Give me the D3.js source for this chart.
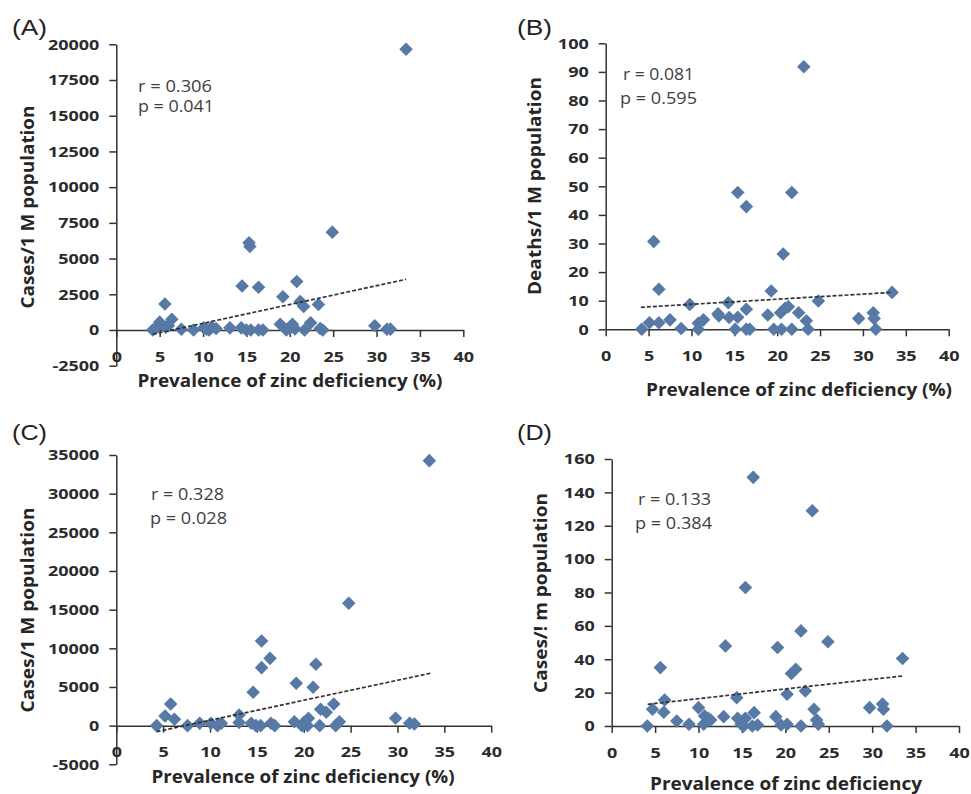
<!DOCTYPE html>
<html><head><meta charset="utf-8">
<script src="https://cdn.jsdelivr.net/npm/d3@7"></script>
<style>body{margin:0;background:#fff}</style>
</head><body>
<svg id="chart" width="971" height="794"></svg>
<script>
// ---------- data ----------
const xTicks = [0, 5, 10, 15, 20, 25, 30, 35, 40];
const yTicksA = [-2500, 0, 2500, 5000, 7500, 10000, 12500, 15000, 17500, 20000];
const yTicksB = [0, 10, 20, 30, 40, 50, 60, 70, 80, 90, 100];
const yTicksC = [-5000, 0, 5000, 10000, 15000, 20000, 25000, 30000, 35000];
const yTicksD = [0, 20, 40, 60, 80, 100, 120, 140, 160];

// (A) cases / 1M population
const xA = [33.4, 24.9, 15.3, 15.4, 14.5, 16.4, 20.8, 19.2, 21.2, 21.6, 23.3, 5.6, 6.4, 5.0, 6.0, 4.2, 7.5, 8.9, 10.1, 10.7, 11.0, 11.5, 13.1, 14.4, 15.0, 15.5, 16.4, 16.9, 18.9, 19.6, 20.3, 20.6, 21.7, 22.4, 23.5, 23.8, 29.8, 31.2, 31.6, 4.5, 10.4, 20.0, 5.7];
const yA = [19650, 6850, 6100, 5850, 3080, 2990, 3400, 2330, 2000, 1650, 1780, 1820, 750, 550, 300, 0, 50, 0, 150, 0, 200, 100, 150, 150, 0, 0, 0, 0, 400, 0, 400, 80, 0, 500, 100, 0, 300, 50, 60, 100, 50, 100, 200];
const trendAx = [4.2, 33.4], trendAy = [-300, 3550];

// (B) deaths / 1M population
const xB = [4.2, 5.1, 5.6, 6.2, 6.2, 7.5, 8.8, 9.8, 10.8, 10.8, 11.4, 13.1, 13.2, 14.3, 14.4, 15.1, 15.4, 15.4, 16.4, 16.4, 16.4, 16.8, 18.9, 19.3, 19.6, 20.4, 20.5, 20.7, 20.9, 21.3, 21.7, 21.7, 22.5, 23.1, 23.4, 23.6, 24.8, 29.5, 31.2, 31.3, 31.5, 33.4];
const yB = [0, 2.3, 30.7, 14, 2.3, 3.3, 0.3, 8.7, 2.1, 0, 3.3, 5.4, 4.7, 9.3, 4.1, 0, 4.2, 47.8, 42.9, 7, 0, 0, 5, 13.4, 0, 5.8, 0, 26.3, 7.3, 7.9, 47.8, 0, 5.8, 91.8, 3, 0, 9.9, 3.8, 5.8, 3.8, 0, 12.9];
const trendBx = [4.1, 33.4], trendBy = [7.7, 12.9];

// (C) cases / 1M population
const xC = [33.4, 24.8, 15.5, 16.4, 15.5, 21.3, 19.2, 21.0, 14.6, 5.8, 23.2, 21.8, 22.4, 5.2, 6.2, 13.1, 29.8, 4.3, 7.6, 8.9, 10.1, 10.8, 11.2, 13.1, 14.4, 14.9, 15.4, 16.5, 16.9, 19.0, 19.8, 20.0, 20.5, 20.4, 21.7, 23.4, 23.8, 31.3, 31.8];
const yC = [34270, 15820, 10950, 8700, 7500, 7930, 5470, 4960, 4310, 2800, 2800, 2110, 1720, 1250, 830, 1380, 950, 0, 0, 300, 300, 0, 300, 400, 300, 0, 0, 300, 0, 500, 0, 400, 950, 0, 0, 0, 500, 300, 200];
const trendCx = [4.3, 33.5], trendCy = [-780, 6770];

// (D) cases / 1m population
const xD = [16.3, 23.1, 15.4, 21.8, 13.1, 19.1, 24.9, 33.5, 5.6, 20.7, 21.2, 20.2, 22.3, 14.4, 6.1, 4.7, 6.0, 7.5, 8.9, 4.1, 10.0, 10.6, 10.7, 11.4, 11.1, 12.9, 14.5, 14.9, 15.4, 16.4, 16.8, 15.2, 16.2, 18.9, 19.5, 20.2, 21.8, 23.3, 23.6, 23.8, 29.7, 31.2, 31.3, 31.7];
const yD = [149, 129, 83, 57, 48, 47, 50.5, 40.5, 35, 31.5, 34, 19, 21, 17, 15.6, 10, 8.2, 3, 1, 0, 11, 1, 6, 3.6, 4.6, 5.6, 4.6, 1, 4.6, 8, 0.6, 0, 0, 5.6, 0.6, 1, 0, 10, 3.6, 1, 11, 13.2, 10, 0];
const trendDx = [4.15, 33.5], trendDy = [13, 30];

// ---------- drawing ----------
const svg = d3.select("#chart");
const markerColor = "#5679a5";
const axisColor = "#333";
const SX = 1.2; // horizontal stretch of tick text

function panel(cfg) {
  const x = d3.scaleLinear().domain([0, 40]).range([cfg.left, cfg.right]);
  const y = d3.scaleLinear().domain(cfg.yDomain).range([cfg.bottom, cfg.top]);
  const g = svg.append("g");

  const ya = g.append("g").attr("transform", `translate(${cfg.left},0)`)
    .call(d3.axisLeft(y).tickValues(cfg.yTicks).tickSize(7).tickSizeOuter(0).tickFormat(d => String(d)));
  const xa = g.append("g").attr("transform", `translate(0,${y(0)})`)
    .call(d3.axisBottom(x).tickValues(xTicks).tickSize(7).tickSizeOuter(0).tickFormat(d => String(d)));
  [ya, xa].forEach(a => {
    a.select(".domain").attr("stroke", axisColor).attr("stroke-width", 1.5);
    a.selectAll(".tick line").attr("stroke", axisColor).attr("stroke-width", 1.5);
    a.selectAll(".tick text").attr("fill", "#2b2b2b").attr("font-family", "'Open Sans', sans-serif")
      .attr("font-weight", 700).attr("font-size", 15).attr("transform", `scale(${SX},1)`);
  });
  ya.selectAll(".tick text").attr("x", -17 / SX);
  xa.selectAll(".tick text").attr("y", 21);

  const pts = cfg.xs.map((v, i) => [v, cfg.ys[i]]);
  g.append("g").selectAll("path").data(pts).join("path")
    .attr("d", d3.symbol().type(d3.symbolSquare).size(92)())
    .attr("transform", d => `translate(${x(d[0])},${y(d[1])}) rotate(45)`)
    .attr("fill", markerColor);

  const tl = cfg.tx.map((v, i) => [v, cfg.ty[i]]);
  g.append("path").datum(tl)
    .attr("d", d3.line().x(d => x(d[0])).y(d => y(d[1])))
    .attr("fill", "none").attr("stroke", "#333").attr("stroke-width", 1.7)
    .attr("stroke-dasharray", "4,2");

  g.append("text").text(cfg.xTitle)
    .attr("x", cfg.xt[0]).attr("y", cfg.xt[1]).attr("text-anchor", "middle")
    .attr("font-family", "'Open Sans', sans-serif").attr("font-weight", 700).attr("font-size", 17)
    .attr("fill", "#262626").attr("textLength", cfg.xt[2]).attr("lengthAdjust", "spacingAndGlyphs");
  g.append("text").text(cfg.yTitle)
    .attr("transform", `translate(${cfg.yt[0]},${cfg.yt[1]}) rotate(-90)`).attr("text-anchor", "middle")
    .attr("font-family", "'Open Sans', sans-serif").attr("font-weight", 700).attr("font-size", 17)
    .attr("fill", "#262626").attr("textLength", cfg.yt[2]).attr("lengthAdjust", "spacingAndGlyphs");

  g.append("text").text(cfg.label).attr("x", cfg.lab[0]).attr("y", cfg.lab[1])
    .attr("font-family", "'Liberation Sans', Arial, sans-serif").attr("font-size", 22)
    .attr("fill", "#222").attr("textLength", 35).attr("lengthAdjust", "spacingAndGlyphs");

  cfg.stats.forEach(s => {
    g.append("text").text(s[0]).attr("x", s[1]).attr("y", s[2])
      .attr("font-family", "'Open Sans', sans-serif").attr("font-size", 15.5)
      .attr("fill", "#404040").attr("textLength", s[3]).attr("lengthAdjust", "spacingAndGlyphs");
  });
}

panel({left: 116.3, right: 463.3, top: 44.3, bottom: 365.7, yDomain: [-2500, 20000], yTicks: yTicksA,
  xs: xA, ys: yA, tx: trendAx, ty: trendAy,
  xTitle: "Prevalence of zinc deficiency (%)", xt: [290, 387, 305],
  yTitle: "Cases/1 M population", yt: [34, 207, 203],
  label: "(A)", lab: [12, 35],
  stats: [["r = 0.306", 138, 92, 74], ["p = 0.041", 138, 112, 76]]});

panel({left: 605.7, right: 948.7, top: 43.3, bottom: 329.3, yDomain: [0, 100], yTicks: yTicksB,
  xs: xB, ys: yB, tx: trendBx, ty: trendBy,
  xTitle: "Prevalence of zinc deficiency (%)", xt: [799, 396, 306],
  yTitle: "Deaths/1 M population", yt: [541, 186, 218],
  label: "(B)", lab: [517, 35],
  stats: [["r = 0.081", 623, 80, 71], ["p = 0.595", 620, 104, 77]]});

panel({left: 116.3, right: 491.2, top: 455, bottom: 764.3, yDomain: [-5000, 35000], yTicks: yTicksC,
  xs: xC, ys: yC, tx: trendCx, ty: trendCy,
  xTitle: "Prevalence of zinc deficiency (%)", xt: [303, 783, 303],
  yTitle: "Cases/1 M population", yt: [34, 610, 205],
  label: "(C)", lab: [12, 440],
  stats: [["r = 0.328", 151, 500, 73], ["p = 0.028", 150, 524, 77]]});

panel({left: 611.7, right: 959, top: 459, bottom: 726, yDomain: [0, 160], yTicks: yTicksD,
  xs: xD, ys: yD, tx: trendDx, ty: trendDy,
  xTitle: "Prevalence of zinc deficiency", xt: [786, 790, 272],
  yTitle: "Cases/! m population", yt: [547, 593, 200],
  label: "(D)", lab: [517, 440],
  stats: [["r = 0.133", 638, 505, 73], ["p = 0.384", 635, 529, 77]]});
</script>
</body></html>
